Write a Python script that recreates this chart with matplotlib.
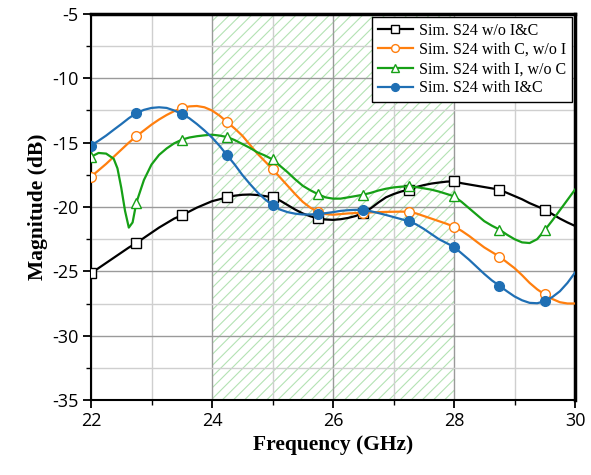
import numpy as np
import matplotlib
matplotlib.use("Agg")
import matplotlib.pyplot as plt
from matplotlib.ticker import MultipleLocator

plt.rcParams["axes.unicode_minus"] = False
plt.rcParams["hatch.linewidth"] = 0.8

# ---- data ----
freq = np.arange(22.0, 30.0001, 0.125)  # GHz sampling grid

s24_wo = [-25.15, -24.75, -24.35, -23.95, -23.55, -23.15, -22.8, -22.4,
          -22.0, -21.6, -21.25, -20.9, -20.65, -20.35, -20.05, -19.8,
          -19.55, -19.4, -19.25, -19.12, -19.05, -19.03, -19.07, -19.15,
          -19.25, -19.5, -19.85, -20.2, -20.5, -20.72, -20.88, -20.97,
          -21.0, -20.95, -20.85, -20.7, -20.45, -20.1, -19.65, -19.25,
          -19.0, -18.8, -18.65, -18.45, -18.3, -18.18, -18.1, -18.03,
          -18.0, -18.15, -18.25, -18.35, -18.45, -18.55, -18.65, -18.9,
          -19.15, -19.4, -19.7, -19.95, -20.2, -20.55, -20.9, -21.2, -21.47]

s24_c = [-17.65, -17.15, -16.65, -16.1, -15.55, -15.0, -14.5, -14.05,
         -13.6, -13.2, -12.85, -12.55, -12.32, -12.18, -12.15, -12.25,
         -12.5, -12.9, -13.4, -13.9, -14.45, -15.15, -15.85, -16.45,
         -17.06, -17.7, -18.35, -19.0, -19.6, -20.05, -20.36, -20.55,
         -20.6, -20.55, -20.5, -20.47, -20.45, -20.42, -20.4, -20.38,
         -20.37, -20.36, -20.37, -20.5, -20.7, -20.9, -21.1, -21.3,
         -21.53, -21.85, -22.25, -22.7, -23.14, -23.5, -23.85, -24.3,
         -24.75, -25.3, -25.9, -26.4, -26.8, -27.15, -27.4, -27.5, -27.5]

freq_i = np.sort(np.concatenate([freq, [22.4375, 22.5625, 22.6875]]))
s24_i = [-16.1, -15.8, -15.85, -16.25, -17.0, -18.5, -20.3, -21.6, -21.2,
         -19.66, -17.9, -16.7, -15.95, -15.45, -15.05, -14.77, -14.6,
         -14.5, -14.43, -14.38, -14.45, -14.56, -14.8, -15.1, -15.4,
         -15.75, -16.0, -16.3, -16.8, -17.3, -17.85, -18.35, -18.7,
         -19.0, -19.25, -19.35, -19.35, -19.25, -19.15, -19.04, -18.9,
         -18.72, -18.58, -18.48, -18.42, -18.4, -18.45, -18.55, -18.65,
         -18.8, -18.98, -19.17, -19.6, -20.1, -20.6, -21.1, -21.45,
         -21.75, -22.15, -22.5, -22.75, -22.8, -22.5, -21.8, -21.05,
         -20.25, -19.45, -18.65]

s24_ic = [-15.23, -14.85, -14.45, -14.0, -13.56, -13.1, -12.7, -12.45,
          -12.3, -12.25, -12.3, -12.5, -12.76, -13.1, -13.55, -14.05,
          -14.6, -15.25, -15.98, -16.7, -17.5, -18.2, -18.85, -19.4,
          -19.85, -20.2, -20.4, -20.52, -20.58, -20.58, -20.55, -20.48,
          -20.4, -20.3, -20.25, -20.22, -20.24, -20.33, -20.47, -20.62,
          -20.78, -20.94, -21.1, -21.35, -21.7, -22.1, -22.5, -22.8,
          -23.1, -23.6, -24.1, -24.65, -25.2, -25.7, -26.12, -26.55,
          -26.95, -27.25, -27.45, -27.48, -27.32, -27.0, -26.55, -25.9, -25.1]

labels = ["Sim. S24 w/o I&C", "Sim. S24 with C, w/o I",
          "Sim. S24 with I, w/o C", "Sim. S24 with I&C"]
band = (24, 28)
xticks = [22, 24, 26, 28, 30]
yticks = [-35, -30, -25, -20, -15, -10, -5]


def marker_idx(f):
    k = (np.asarray(f) - 22.0) / 0.75
    return [i for i, v in enumerate(k) if abs(v - round(v)) < 1e-6]


# ---- figure ----
fig = plt.figure(figsize=(5.91, 4.75), dpi=100)
ax = fig.add_axes([91 / 591, 1 - 400 / 475, (575 - 91) / 591, (400 - 14) / 475])

ax.axvspan(band[0], band[1], facecolor="none", edgecolor="#b3e2b3",
           hatch="///", linewidth=0, zorder=0.5)

series = [
    (freq, s24_wo, "#000000", "s", "white"),
    (freq, s24_c, "#ff7f0e", "o", "white"),
    (freq_i, s24_i, "#16a016", "^", "white"),
    (freq, s24_ic, "#1f6fb4", "o", None),
]
for (f, y, c, m, fc), lab in zip(series, labels):
    ax.plot(f, y, color=c, lw=1.6, marker=m, markersize=7 if m != "s" else 6.5,
            markerfacecolor=fc if fc else c, markeredgecolor=c,
            markeredgewidth=1.0, markevery=marker_idx(f), label=lab, zorder=3)

ax.set_xlim(22, 30)
ax.set_ylim(-35, -5)
ax.set_xticks(xticks)
ax.set_yticks(yticks)
ax.xaxis.set_minor_locator(MultipleLocator(1))
ax.yaxis.set_minor_locator(MultipleLocator(2.5))
ax.grid(which="major", color="#9a9a9a", lw=1.0, zorder=0.6)
ax.grid(which="minor", color="#cfcfcf", lw=1.0, zorder=0.6)
ax.set_axisbelow(True)

for s in ["left", "bottom"]:
    ax.spines[s].set_linewidth(1.5)
for s in ["top", "right"]:
    ax.spines[s].set_linewidth(2.5)

ax.tick_params(which="major", direction="out", length=6, width=1.3,
               labelsize=13, pad=3, top=False, right=False)
ax.tick_params(which="minor", direction="out", length=3.5, width=1.0,
               top=False, right=False)
for t in ax.get_xticklabels() + ax.get_yticklabels():
    t.set_fontfamily("Open Sans")

ax.set_xlabel("Frequency (GHz)", fontfamily="Liberation Serif",
              fontweight="bold", fontsize=15.5, labelpad=3)
ax.set_ylabel("Magnitude (dB)", fontfamily="Liberation Serif",
              fontweight="bold", fontsize=15.5, labelpad=3)

leg = ax.legend(loc="upper right", prop={"family": "Liberation Serif", "size": 11.5},
                frameon=True, fancybox=False, framealpha=1, edgecolor="black",
                handlelength=2.2, handletextpad=0.4, borderpad=0.35,
                labelspacing=0.2, borderaxespad=0.2, markerscale=0.8)
leg.get_frame().set_linewidth(1.0)

fig.savefig("out.png", dpi=100)
